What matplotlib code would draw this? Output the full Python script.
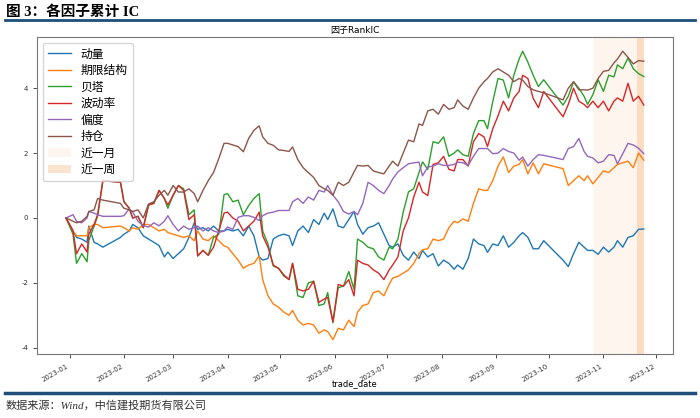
import matplotlib
matplotlib.use('Agg')
import matplotlib.pyplot as plt
import matplotlib.dates as mdates
from matplotlib.lines import Line2D
import pandas as pd

plt.rcParams['font.family'] = ['DejaVu Sans', 'Noto Sans CJK SC']
plt.rcParams['axes.unicode_minus'] = False

# trade dates
dates = [
    '2022-12-30', '2023-01-03', '2023-01-05', '2023-01-08', '2023-01-11', '2023-01-12',
    '2023-01-15', '2023-01-17', '2023-01-20', '2023-01-30', '2023-02-01', '2023-02-04',
    '2023-02-06', '2023-02-09', '2023-02-12', '2023-02-15', '2023-02-18', '2023-02-21',
    '2023-02-24', '2023-02-26', '2023-03-01', '2023-03-04', '2023-03-07', '2023-03-10',
    '2023-03-13', '2023-03-15', '2023-03-18', '2023-03-21', '2023-03-24', '2023-03-27',
    '2023-03-30', '2023-04-01', '2023-04-04', '2023-04-07', '2023-04-10', '2023-04-13',
    '2023-04-16', '2023-04-19', '2023-04-21', '2023-04-24', '2023-04-27', '2023-04-30',
    '2023-05-03', '2023-05-06', '2023-05-08', '2023-05-11', '2023-05-14', '2023-05-17',
    '2023-05-20', '2023-05-23', '2023-05-26', '2023-05-28', '2023-05-31', '2023-06-03',
    '2023-06-06', '2023-06-09', '2023-06-12', '2023-06-14', '2023-06-17', '2023-06-20',
    '2023-06-23', '2023-06-26', '2023-06-29', '2023-07-02', '2023-07-04', '2023-07-07',
    '2023-07-10', '2023-07-13', '2023-07-16', '2023-07-19', '2023-07-21', '2023-07-24',
    '2023-07-27', '2023-07-30', '2023-08-02', '2023-08-05', '2023-08-08', '2023-08-10',
    '2023-08-13', '2023-08-16', '2023-08-19', '2023-08-22', '2023-08-25', '2023-08-27',
    '2023-08-30', '2023-09-02', '2023-09-05', '2023-09-08', '2023-09-11', '2023-09-14',
    '2023-09-16', '2023-09-19', '2023-09-22', '2023-09-25', '2023-09-28', '2023-10-09',
    '2023-10-12', '2023-10-15', '2023-10-18', '2023-10-21', '2023-10-23', '2023-10-26',
    '2023-10-29', '2023-11-01', '2023-11-04', '2023-11-07', '2023-11-09', '2023-11-12',
    '2023-11-15', '2023-11-18', '2023-11-21', '2023-11-24',
]

momentum = [
    0, -0.4, -0.6, -0.65, -0.75, -0.25, -0.75, -0.8, -0.9, -0.6, -0.5, -0.4,
    -0.2, -0.3, -0.55, -0.65, -0.75, -0.85, -1.2, -1.05, -1.25, -1.1, -0.95, -0.6,
    -0.15, -0.35, -0.3, -0.4, -0.25, -0.4, -0.4, -0.35, -0.4, -0.35, -0.55, -0.25,
    -0.55, -1.2, -1.3, -1.25, -0.65, -0.55, -0.5, -0.55, -0.85, -0.4, -0.25, -0.45,
    -0.05, -0.2, 0.15, -0.05, 0.28, -0.25, -0.3, -0.05, 0.2, -0.2, -0.5, -0.3,
    -0.25, -0.15, -0.5, -0.85, -0.9, -0.8, -1.15, -1.3, -1.05, -1.25, -1.0, -1.2,
    -1.1, -1.48, -1.3, -1.4, -1.58, -1.45, -1.58, -1.25, -0.65, -0.8, -0.85, -1.06,
    -0.8, -0.85, -0.55, -0.9, -0.75, -0.55, -0.45, -0.6, -0.95, -0.95, -0.7, -1.3,
    -1.5, -1.1, -0.75, -0.9, -1.0, -1.0, -1.12, -0.9, -1.05, -0.9, -0.7, -0.9,
    -0.6, -0.55, -0.35, -0.34,
]

term_structure = [
    0, -0.4, -0.55, -0.55, -0.55, -0.3, -0.2, -0.2, -0.3, -0.25, -0.3, -0.4,
    -0.3, -0.35, -0.2, -0.2, -0.3, -0.4, -0.35, -0.45, -0.5, -0.55, -0.6, -0.55,
    -0.7, -0.4, -0.65, -0.7, -0.55, -0.7, -0.86, -0.9, -1.1, -1.3, -1.55, -1.45,
    -1.4, -1.17, -1.9, -2.4, -2.65, -2.75, -2.9, -3.0, -2.85, -3.15, -3.3, -3.25,
    -3.3, -3.55, -3.45, -3.5, -3.75, -3.4, -3.45, -3.15, -3.35, -2.9, -2.7, -2.65,
    -2.3, -2.25, -2.4, -2.05, -1.85, -1.8, -1.7, -1.6, -1.4, -1.1, -0.98, -0.95,
    -0.65, -0.7, -0.65, -0.3, -0.1, -0.15, -0.03, -0.1, 0.45, 0.9, 0.85, 0.85,
    1.15, 1.6, 1.88, 1.4, 1.6, 1.65, 1.8, 1.36, 1.7, 1.36, 1.67, 1.52,
    1.0, 1.15, 1.3, 1.15, 1.3, 1.05, 1.25, 1.45, 1.4, 1.55, 1.65, 1.7,
    1.75, 1.55, 2.0, 1.78,
]

beta = [
    0, -0.5, -1.4, -1.1, -1.35, -0.7, -0.25, 0.05, 1.15, 1.1, 0.5, 0.3,
    0.0, 0.05, -0.3, 0.4, 0.45, 0.85, 0.6, 0.3, 0.7, 1.0, 0.9, 0.1,
    0.25, -1.17, -1.0, -1.15, -0.6, -0.5, 0.72, 0.75, 0.5, 0.55, 0.1, 0.38,
    0.6, 0.75, -0.4, -0.8, -1.48, -1.55, -1.79, -1.9, -1.4, -2.4, -2.45, -2.0,
    -1.95, -2.7, -2.65, -2.3, -3.23, -2.15, -2.1, -1.65, -2.2, -0.65, -0.75, -0.9,
    -0.95, -1.2, -1.3, -0.9, -0.95, -0.65, 0.18, 0.8, 0.9, 1.4, 1.73, 1.5,
    2.35, 2.3, 2.5, 1.9, 2.0, 2.1, 1.95, 1.9, 2.6, 3.0, 3.0, 2.75,
    3.59, 4.3, 4.25, 3.7, 4.4, 4.9, 5.14, 4.8, 4.4, 4.05, 4.26, 3.48,
    3.75, 4.2, 4.0, 3.75, 3.5, 3.8, 4.26, 3.9, 4.4, 4.35, 4.72, 4.6,
    4.93, 4.6, 4.45, 4.36,
]

volatility = [
    0, -0.4, -1.1, -0.8, -1.05, -0.5, -0.2, 0.1, 1.15, 1.1, 0.5, 0.3,
    0.0, 0.05, -0.3, 0.4, 0.45, 0.85, 0.6, 0.4, 0.7, 1.0, 0.85, -0.05,
    0.1, -1.17, -1.0, -1.15, -0.9, -0.4, 0.15, 0.18, 0.0, -0.1, -0.4, -0.25,
    -0.1, 0.18, -0.55, -0.9, -1.45, -1.55, -1.75, -1.9, -1.4, -2.2, -2.25, -2.2,
    -1.95, -2.6, -2.5, -2.45, -3.2, -2.05, -2.1, -1.9, -2.4, -1.3, -1.4, -1.45,
    -1.6, -1.7, -1.9, -1.6, -1.45, -1.2, -0.4, 0.0, 0.65, 1.1, 0.8, 0.69,
    1.65, 1.7, 1.9, 1.5, 1.45, 1.8, 1.8, 1.6, 2.35, 2.6, 2.5, 2.2,
    2.75, 3.15, 3.6, 3.3, 3.7, 3.9, 4.4, 4.3, 3.69, 3.4, 3.9, 3.12,
    3.5, 4.0, 3.6, 3.5, 3.4, 3.6, 3.4, 3.6, 3.3, 3.6, 3.7, 3.6,
    4.15, 3.6, 3.75, 3.48,
]

skewness = [
    0, 0.1, -0.1, -0.15, 0.0, 0.2, 0.15, 0.1, 0.05, 0.05, 0.07, 0.28,
    0.18, -0.1, -0.24, -0.28, -0.15, -0.24, -0.1, 0.07, -0.2, -0.4, -0.25, -0.35,
    -0.3, -0.25, -0.4, -0.3, -0.4, -0.45, -0.4, -0.28, -0.35, 0.02, 0.07, 0.07,
    0.02, -0.08, 0.07, 0.15, 0.18, 0.23, 0.23, 0.23, 0.5, 0.6, 0.45, 0.65,
    0.55, 0.85, 0.8, 1.0, 0.7, 0.5, 0.2, 0.12, 0.2, 0.1, 0.45, 1.1,
    1.0, 0.85, 0.75, 1.0, 1.2, 1.42, 1.55, 1.67, 1.7, 1.72, 1.3, 1.57,
    1.6, 1.67, 1.62, 1.62, 1.65, 1.72, 1.7, 1.62, 1.9, 2.14, 2.14, 2.14,
    1.98, 2.0, 2.14, 2.05, 2.0, 1.78, 1.88, 1.6, 1.8, 1.95, 1.93, 1.8,
    2.14, 2.2, 2.45, 2.05, 1.9, 1.85, 1.7, 1.75, 1.95, 1.93, 1.67, 1.98,
    2.3, 2.25, 2.15, 1.98,
]

open_interest = [
    0, -0.1, -0.15, -0.1, 0.05, 0.2, 0.25, 0.6, 0.55, 0.45, 0.3, 0.25,
    0.2, 0.25, 0.0, 0.43, 0.5, 0.7, 0.85, 0.7, 1.0, 0.8, 0.8, 0.9,
    0.75, 0.5, 0.85, 1.15, 1.4, 1.83, 2.3, 2.3, 2.25, 2.2, 2.04, 2.45,
    2.7, 2.84, 2.5, 2.3, 2.24, 2.1, 2.08, 2.05, 2.19, 1.8, 1.55, 1.4,
    1.25, 1.0, 0.9, 0.85, 0.7, 1.1, 1.0, 1.1, 1.42, 1.62, 1.6, 1.62,
    1.45, 1.4, 1.36, 1.6, 1.75, 1.6, 2.0, 2.4, 2.35, 2.9, 2.85, 3.3,
    3.35, 3.2, 3.5, 3.35, 3.4, 3.64, 3.45, 3.35, 3.7, 4.0, 4.2, 4.3,
    4.5, 4.6, 4.5, 4.4, 4.2, 4.3, 4.25, 4.05, 3.95, 3.9, 3.86, 3.64,
    4.0, 4.2, 3.95, 3.95, 3.94, 4.0, 4.3, 4.52, 4.55, 4.78, 4.9, 5.14,
    4.95, 4.75, 4.85, 4.83,
]

series = [
    ('动量', momentum),
    ('期限结构', term_structure),
    ('贝塔', beta),
    ('波动率', volatility),
    ('偏度', skewness),
    ('持仓', open_interest),
]

month_start, week_start, last_day = '2023-10-26', '2023-11-20', '2023-11-24'

x = pd.to_datetime(dates)

fig = plt.figure(figsize=(7, 4.18), dpi=100)
ax = fig.add_axes([0.053, 0.153, 0.908, 0.759])

for name, vals in series:
    ax.plot(x, vals, lw=1.0, label=name)

ax.axvspan(pd.Timestamp(month_start), pd.Timestamp(last_day), color='sandybrown', alpha=0.1, lw=0, label='近一月')
ax.axvspan(pd.Timestamp(week_start), pd.Timestamp(last_day), color='sandybrown', alpha=0.3, lw=0, label='近一周')

ax.xaxis.set_major_locator(mdates.MonthLocator())
ax.xaxis.set_major_formatter(mdates.DateFormatter('%Y-%m'))
plt.setp(ax.get_xticklabels(), rotation=30, ha='right')
ax.tick_params(labelsize=5, length=3, width=0.6, colors='#333333')
for s in ax.spines.values():
    s.set_color('#777777')
    s.set_linewidth(0.8)

ax.set_title('因子RankIC', fontsize=6.5, pad=3)
ax.set_xlabel('trade_date', fontsize=6)
ax.xaxis.set_label_coords(0.5, -0.078)
ax.legend(loc='upper left', fontsize=8.5, framealpha=0.8, labelspacing=0.3)

# report header / footer
fig.text(0.008, 0.972, '图 3：各因子累计 IC', fontsize=10.5, fontweight='bold',
         family=['Liberation Serif', 'Noto Sans CJK SC'], va='center')
fig.add_artist(Line2D([0.007, 0.993], [0.951, 0.951], transform=fig.transFigure,
                      color='#1f4e79', lw=2))
fig.add_artist(Line2D([0.007, 0.993], [0.06, 0.06], transform=fig.transFigure,
                      color='#1f4e79', lw=2.5))
fig.text(0.008, 0.031, '数据来源：Wind，中信建投期货有限公司', fontsize=8, style='italic',
         color='#333333', family=['Liberation Serif', 'Noto Sans CJK SC'], va='center')

fig.savefig('out.png', dpi=100)
